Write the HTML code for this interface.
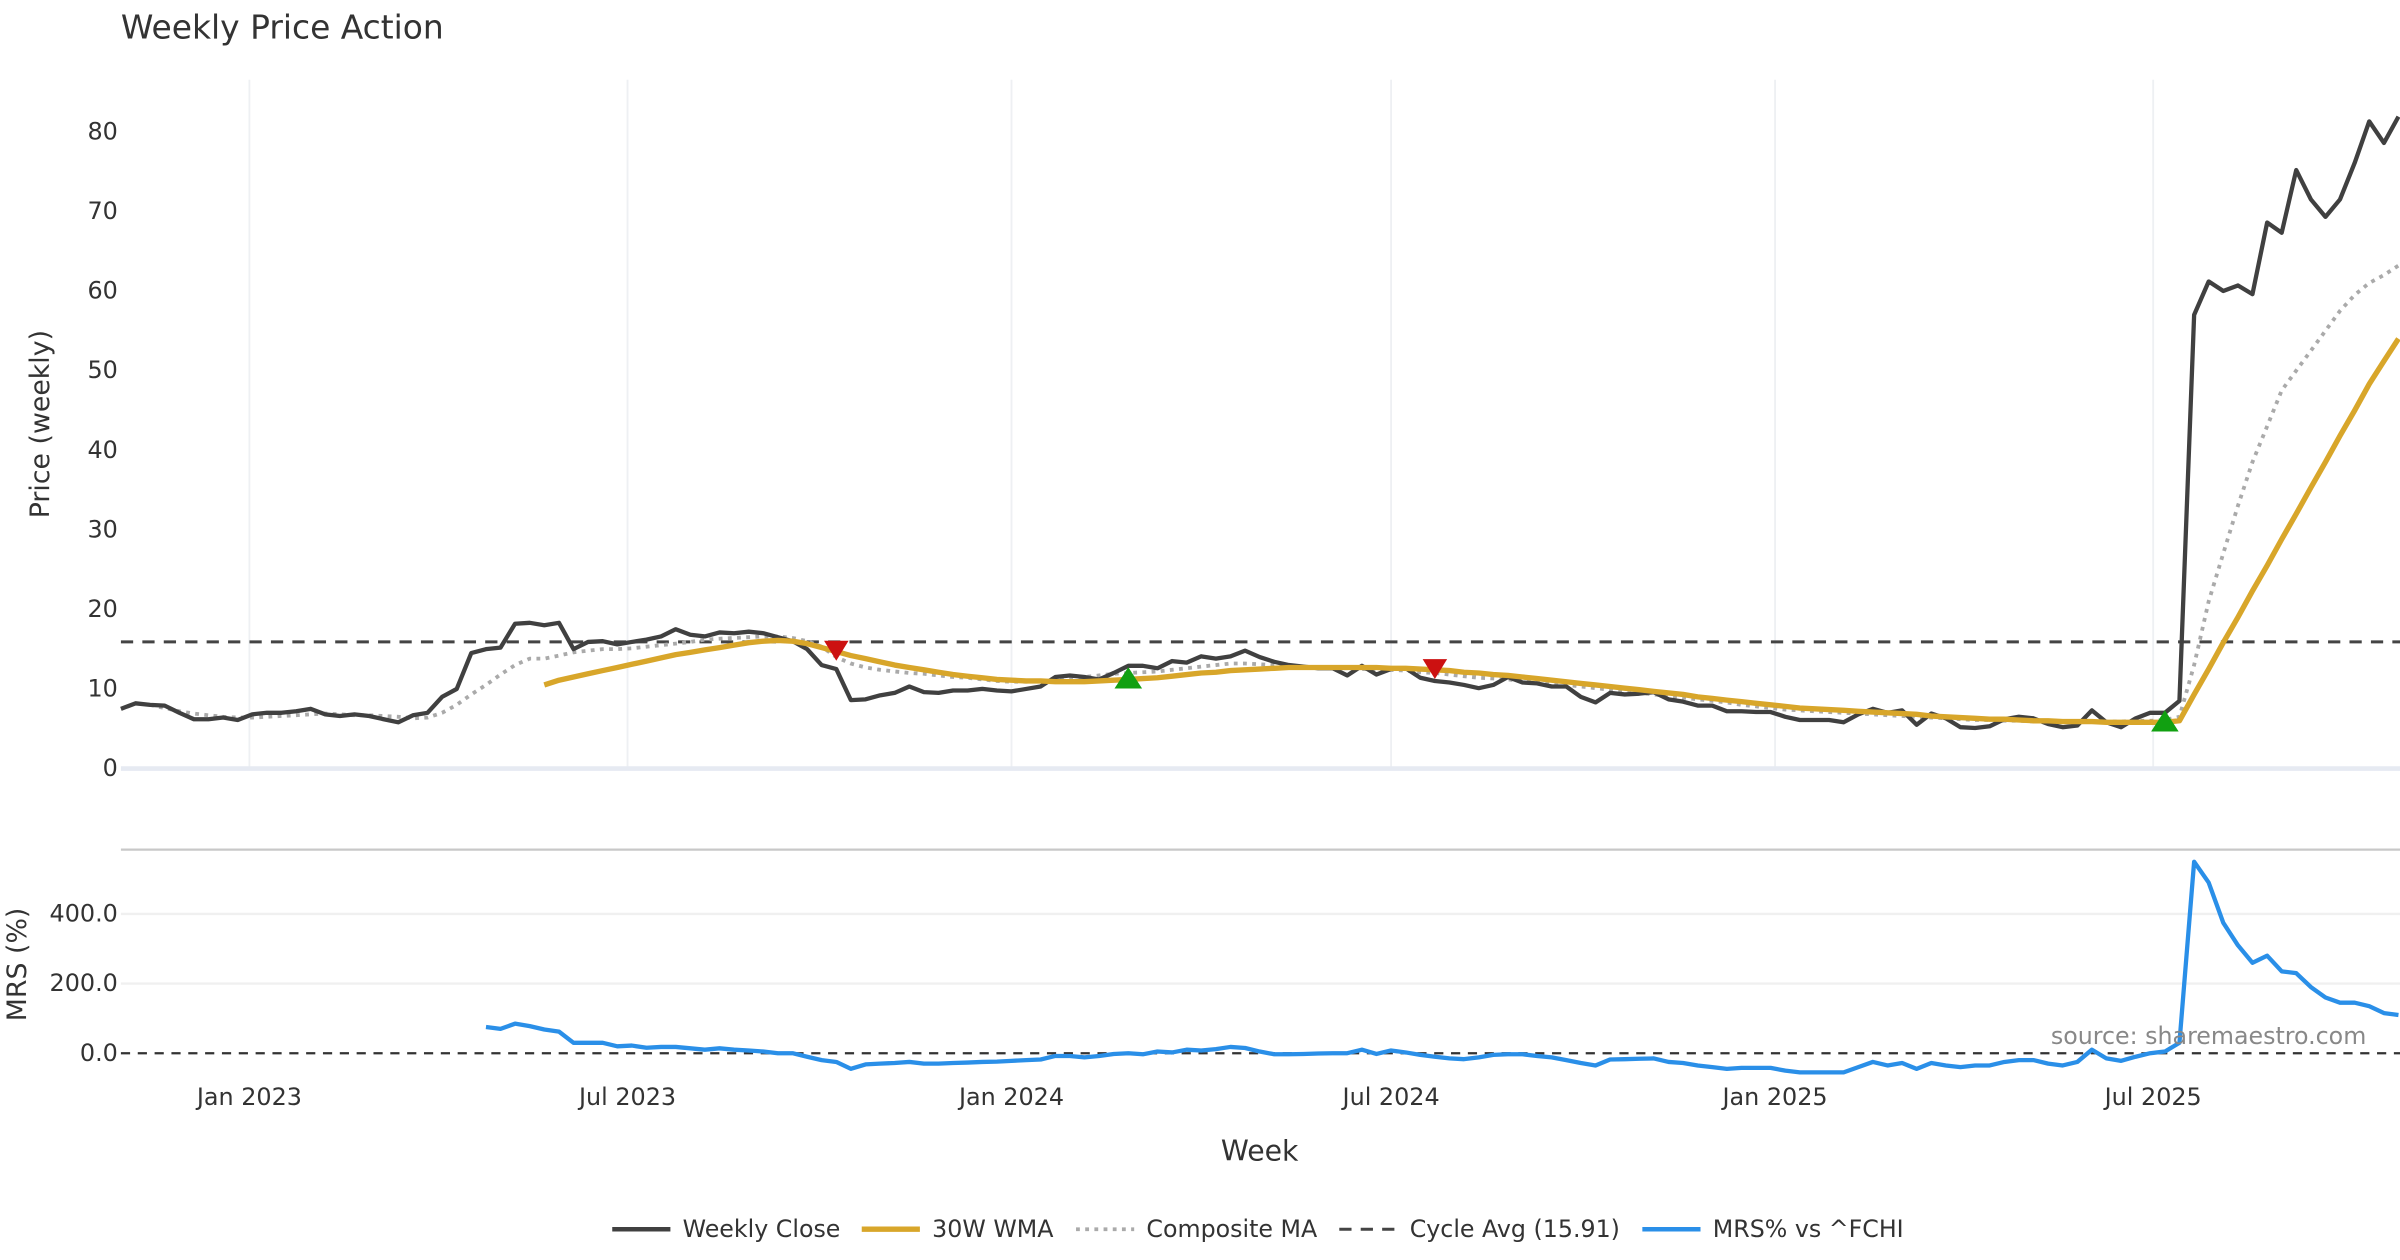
<!DOCTYPE html>
<html><head><meta charset="utf-8"><style>
html,body{margin:0;padding:0;background:#fff;}
svg{display:block;font-family:"DejaVu Sans","Liberation Sans",sans-serif;}
</style></head><body>
<svg id="chart" width="2400" height="1260" viewBox="0 0 1568 823" xmlns="http://www.w3.org/2000/svg">
<rect width="1568" height="823" fill="#fff"/>
<text x="79" y="25" font-size="21.5" fill="#333">Weekly Price Action</text>
<g id="grid"></g>
<g id="series"></g>
<g id="axes"></g>
<text transform="translate(32,277) rotate(-90)" text-anchor="middle" font-size="17.5" fill="#333">Price (weekly)</text>
<text transform="translate(17,630) rotate(-90)" text-anchor="middle" font-size="17.5" fill="#333">MRS (%)</text>
<text x="823" y="758" text-anchor="middle" font-size="18.5" fill="#333">Week</text>
<text x="1546" y="682" text-anchor="end" font-size="15.5" fill="#888">source: sharemaestro.com</text>
<g id="legend"></g>
</svg>
<script>
const closeVals=[7.5,8.2,8.0,7.9,7.0,6.2,6.2,6.4,6.1,6.8,
7.0,7.0,7.2,7.5,6.8,6.6,6.8,6.6,6.2,5.8,
6.7,7.0,9.0,10.0,14.5,15.0,15.2,18.2,18.3,18.0,
18.3,15.0,15.9,16.0,15.6,15.9,16.2,16.6,17.5,16.8,
16.6,17.1,17.0,17.2,17.0,16.5,16.0,15.0,13.0,12.5,
8.6,8.7,9.2,9.5,10.3,9.6,9.5,9.8,9.8,10.0,
9.8,9.7,10.0,10.3,11.5,11.7,11.5,11.2,12.0,12.9,
12.9,12.6,13.5,13.3,14.1,13.8,14.1,14.8,14.0,13.4,
13.0,12.8,12.6,12.6,11.7,12.9,11.8,12.5,12.6,11.4,
11.0,10.8,10.5,10.1,10.5,11.5,10.8,10.7,10.3,10.3,
9.0,8.3,9.5,9.3,9.4,9.6,8.7,8.4,7.9,7.9,
7.2,7.2,7.1,7.1,6.5,6.1,6.1,6.1,5.8,6.8,
7.5,7.0,7.3,5.5,6.9,6.3,5.2,5.1,5.3,6.2,
6.5,6.3,5.6,5.2,5.4,7.3,5.8,5.2,6.3,7.0,
7.0,8.5,57.0,61.2,60.0,60.7,59.6,68.6,67.3,75.2,
71.5,69.3,71.5,76.1,81.3,78.6,81.9];
const wmaStart=29;
const wmaVals=[10.5,11.1,11.5,11.9,12.3,12.7,13.1,13.5,13.9,14.3,14.6,14.9,15.2,15.5,15.8,16.0,16.1,16.0,15.7,15.2,
14.7,14.2,13.8,13.4,13.0,12.7,12.4,12.1,11.8,11.6,11.4,11.2,11.1,11.0,11.0,10.9,10.9,10.9,11.0,11.1,
11.2,11.3,11.4,11.6,11.8,12.0,12.1,12.3,12.4,12.5,12.6,12.7,12.7,12.7,12.7,12.7,12.7,12.7,12.6,12.6,
12.5,12.4,12.3,12.1,12.0,11.8,11.7,11.5,11.3,11.1,10.9,10.7,10.5,10.3,10.1,9.9,9.7,9.5,9.3,9.0,
8.8,8.6,8.4,8.2,8.0,7.8,7.6,7.5,7.4,7.3,7.2,7.1,7.0,6.9,6.8,6.6,6.5,6.4,6.3,6.2,
6.2,6.1,6.0,6.0,5.9,5.9,5.9,5.8,5.8,5.8,5.8,5.8,6.0,9.3,12.5,15.8,19.0,22.3,25.5,28.8,
32.0,35.3,38.5,41.8,45.0,48.3,51.2,54.0];
const compStart=2;
const compVals=[8.0,7.6,7.2,6.9,6.7,6.5,6.4,6.4,6.5,6.6,6.7,6.8,6.9,6.8,6.7,6.7,6.6,6.5,6.3,6.4,
7.0,8.0,9.3,10.5,11.8,13.0,13.8,13.8,14.2,14.6,14.8,15.0,15.0,15.1,15.3,15.5,15.7,15.9,16.2,16.3,
16.4,16.5,16.6,16.6,16.4,16.0,15.3,14.0,13.2,12.7,12.4,12.2,12.0,11.9,11.7,11.5,11.4,11.2,11.0,10.9,
10.9,11.0,11.1,11.3,11.5,11.7,11.9,12.0,12.1,12.2,12.4,12.6,12.8,13.0,13.2,13.2,13.1,13.0,12.9,12.8,
12.7,12.6,12.6,12.5,12.5,12.4,12.3,12.1,12.0,11.8,11.6,11.4,11.3,11.2,11.0,10.9,10.7,10.5,10.3,10.1,
9.9,9.7,9.5,9.3,9.1,8.9,8.7,8.5,8.3,8.0,7.8,7.6,7.4,7.3,7.2,7.1,7.0,6.9,6.8,6.7,
6.6,6.5,6.4,6.3,6.2,6.1,6.1,6.0,6.0,5.9,5.9,5.9,5.9,5.9,5.9,5.9,6.0,6.0,6.1,6.5,
13,21,27,33,38.5,43,47.5,50,52.5,55,57.5,59.5,61,62,63.2];
const mrsStart=25;
const mrsVals=[75,70,85,78,68,62,30,30,30,20,22,16,18,18,14,10,14,10,8,5,
0,0,-10,-20,-25,-45,-32,-30,-28,-25,-30,-30,-28,-27,-25,-24,-22,-20,-18,-8,
-8,-12,-8,-2,0,-3,5,2,10,8,12,18,15,5,-3,-3,-2,-1,0,0,
10,-2,8,2,-5,-10,-15,-17,-12,-5,-3,-3,-8,-12,-20,-28,-35,-18,-17,-16,
-15,-25,-28,-35,-40,-45,-42,-42,-42,-50,-55,-55,-55,-55,-40,-25,-35,-28,-45,-28,
-35,-40,-35,-35,-25,-20,-20,-30,-35,-25,10,-15,-22,-10,0,5,30,550,490,375,
310,260,280,235,230,190,160,145,145,135,115,110];
const signalIdx=[49,69,90,140];
const signalType=['sell','buy','sell','buy'];
const cycleAvg=15.91;
const priceTicks=[0,10,20,30,40,50,60,70,80];
const mrsTicks=[0,200,400];
const mrsTickLabels=['0.0','200.0','400.0'];
const dateTickLabels=['Jan 2023','Jul 2023','Jan 2024','Jul 2024','Jan 2025','Jul 2025'];
const dateTickWeeks=[8.8,34.7,61.0,87.0,113.3,139.2];

const NS='http://www.w3.org/2000/svg';
const N=closeVals.length;
const X0=79,X1=1567;
function xs(i){return X0+(X1-X0)*i/(N-1);}
function yp(v){return 502-v*5.2;}
function ym(v){return 688-v*0.2275;}
function mk(parent,tag,attrs){const e=document.createElementNS(NS,tag);for(const k in attrs)e.setAttribute(k,attrs[k]);document.getElementById(parent).appendChild(e);return e;}
function pathFrom(vals,start,yf){let d='';vals.forEach((v,j)=>{if(v==null)return;d+=(d?'L':'M')+xs(start+j).toFixed(1)+','+yf(v).toFixed(1);});return d;}

dateTickWeeks.forEach((w,k)=>{
  let g=mk('grid','line',{x1:xs(w),x2:xs(w),y1:52,y2:502,stroke:'#eef0f3','stroke-width':1.2});
  
  
  let t=mk('axes','text',{x:xs(w),y:722,'text-anchor':'middle','font-size':15.6,fill:'#333'});
  t.textContent=dateTickLabels[k];
  
  
});
let base=mk('grid','line',{x1:79,x2:1568,y1:502,y2:502,stroke:'#e6eaf2','stroke-width':3});


let sep=mk('grid','line',{x1:79,x2:1568,y1:555,y2:555,stroke:'#c8c8c8','stroke-width':1.5});


mrsTicks.forEach((v,k)=>{
  if(v!==0){let g=mk('grid','line',{x1:79,x2:1568,y1:ym(v),y2:ym(v),stroke:'#f0f0f0','stroke-width':1.5});
  
  }
  let t=mk('axes','text',{x:77,y:ym(v)+5,'text-anchor':'end','font-size':15.6,fill:'#333'});
  t.textContent=mrsTickLabels[k];
  
  
});
priceTicks.forEach(v=>{
  let t=mk('axes','text',{x:77,y:yp(v)+5,'text-anchor':'end','font-size':15.6,fill:'#333'});
  t.textContent=String(v);
  
  
});
let ca=mk('series','line',{x1:79,x2:1568,y1:yp(cycleAvg),y2:yp(cycleAvg),stroke:'#444','stroke-width':2,'stroke-dasharray':'8,6'});


let comp=mk('series','path',{d:pathFrom(compVals,compStart,yp),fill:'none',stroke:'#aaaaaa','stroke-width':2.5,'stroke-dasharray':'2.5,3.5'});


let cl=mk('series','path',{d:pathFrom(closeVals,0,yp),fill:'none',stroke:'#404040','stroke-width':2.8,'stroke-linejoin':'round'});


let wm=mk('series','path',{d:pathFrom(wmaVals,wmaStart,yp),fill:'none',stroke:'#d8a62a','stroke-width':3.5,'stroke-linejoin':'round'});


signalIdx.forEach((i,k)=>{
  const x=xs(i),y=yp(wmaVals[i-wmaStart]);
  let pts=signalType[k]==='sell'?`${x-8},${y-7} ${x+8},${y-7} ${x},${y+6}`:`${x-9},${y+6} ${x+9},${y+6} ${x},${y-8}`;
  let p=mk('series','polygon',{points:pts,fill:signalType[k]==='sell'?'#cc1111':'#11a011'});
  
  
});
let z=mk('series','line',{x1:79,x2:1568,y1:ym(0),y2:ym(0),stroke:'#333','stroke-width':1.5,'stroke-dasharray':'6,5'});


let mr=mk('series','path',{d:pathFrom(mrsVals,mrsStart,ym),fill:'none',stroke:'#2a8fe8','stroke-width':2.8,'stroke-linejoin':'round'});


const legItems=[['Weekly Close',400,'#404040','',3],['30W WMA',563,'#d8a62a','',3.5],['Composite MA',703,'#aaaaaa','2.5,3.5',2.5],['Cycle Avg (15.91)',875,'#444','8,6',2],['MRS% vs ^FCHI',1073,'#2a8fe8','',3]];
legItems.forEach(it=>{
  let l=mk('legend','line',{x1:it[1],x2:it[1]+38,y1:803,y2:803,stroke:it[2],'stroke-width':it[4],'stroke-dasharray':it[3]||'none'});
  
  
  let t=mk('legend','text',{x:it[1]+46,y:808,'font-size':15.5,fill:'#333'});
  t.textContent=it[0];
  
  
});
</script>
</body></html>
